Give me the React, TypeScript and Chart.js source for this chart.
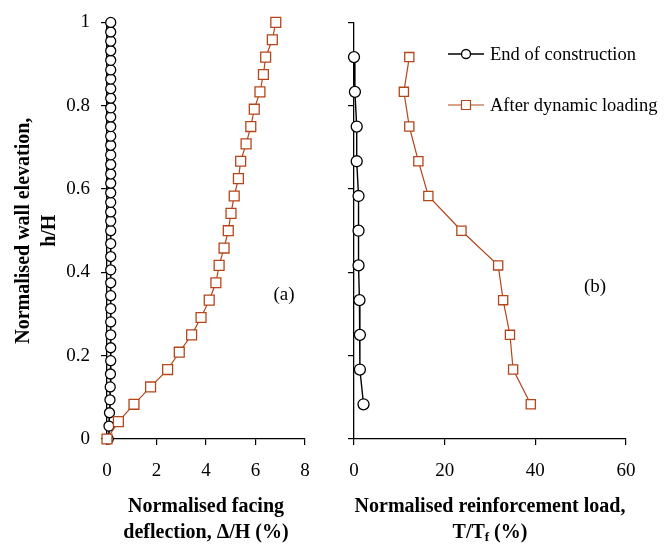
import React, { useEffect, useRef } from 'react';
import { Chart, registerables } from 'chart.js';

Chart.register(...registerables);

const FONT = "'Liberation Serif', 'Times New Roman', serif";
const BLACK = '#000000';
const ORANGE = '#b5461a';

// ---------- Panel (a): facing deflection ----------
const elevAfter = [0, 0.0417, 0.0833, 0.125, 0.1667, 0.2083, 0.25, 0.2917, 0.3333, 0.375, 0.4167, 0.4583, 0.5, 0.5417, 0.5833, 0.625, 0.6667, 0.7083, 0.75, 0.7917, 0.8333, 0.875, 0.9167, 0.9583, 1];
const deflAfter = [0, 0.46, 1.09, 1.76, 2.45, 2.92, 3.42, 3.8, 4.13, 4.4, 4.53, 4.73, 4.9, 5.01, 5.14, 5.31, 5.4, 5.62, 5.81, 5.95, 6.18, 6.32, 6.41, 6.68, 6.82];

const elevEoc = [0, 0.031, 0.063, 0.094, 0.125, 0.156, 0.188, 0.219, 0.25, 0.281, 0.313, 0.344, 0.375, 0.406, 0.438, 0.469, 0.5, 0.523, 0.545, 0.568, 0.591, 0.614, 0.636, 0.659, 0.682, 0.705, 0.727, 0.75, 0.773, 0.795, 0.818, 0.841, 0.864, 0.886, 0.909, 0.932, 0.955, 0.977, 1];
const deflEoc = [0.05, 0.08, 0.1, 0.12, 0.13, 0.14, 0.15, 0.15, 0.15, 0.15, 0.15, 0.15, 0.15, 0.15, 0.15, 0.15, 0.15, 0.15, 0.15, 0.15, 0.15, 0.15, 0.15, 0.15, 0.15, 0.15, 0.15, 0.15, 0.15, 0.15, 0.15, 0.15, 0.15, 0.15, 0.15, 0.15, 0.15, 0.15, 0.15];

const deflTicks = [0, 2, 4, 6, 8];
const elevTickLabels = ['0', '0.2', '0.4', '0.6', '0.8', '1'];

// ---------- Panel (b): reinforcement load ----------
const elevLayers = [0.9167, 0.8333, 0.75, 0.6667, 0.5833, 0.5, 0.4167, 0.3333, 0.25, 0.1667, 0.0833];
const loadEoc = [0, 0.2, 0.6, 0.6, 1.0, 1.0, 1.0, 1.2, 1.3, 1.3, 2.1];
const loadAfter = [12.2, 11.0, 12.2, 14.2, 16.4, 23.7, 31.8, 32.9, 34.4, 35.1, 39.0];
const loadTicks = [0, 20, 40, 60];

const seriesNames = ['End of construction', 'After dynamic loading'];

const zip = (xs: number[], ys: number[]) => xs.map((x, i) => ({ x, y: ys[i] }));

const tickFont = { family: FONT, size: 19 };
const titleFont = { family: FONT, size: 20, weight: 'bold' as const, lineHeight: 1.3 };

function xScale(min: number, max: number, step: number, title: string[]) {
  return {
    type: 'linear' as const,
    min,
    max,
    ticks: { stepSize: step, font: tickFont, color: BLACK, padding: 15 },
    grid: { drawOnChartArea: false, drawTicks: true, tickLength: 6, color: BLACK, lineWidth: 1.2 },
    border: { display: true, color: BLACK, width: 1.3 },
    title: { display: true, text: title, font: titleFont, color: BLACK, padding: { top: 0, bottom: 3 } },
    afterFit: (s: any) => { s.height = 110; },
  };
}

function yScale(showLabels: boolean, width: number) {
  return {
    type: 'linear' as const,
    min: 0,
    max: 1,
    ticks: {
      stepSize: 0.2,
      font: tickFont,
      color: BLACK,
      padding: 11,
      callback: (v: any) => {
        if (!showLabels) return '';
        const idx = Math.round(Number(v) / 0.2);
        return elevTickLabels[idx] ?? '';
      },
    },
    grid: { drawOnChartArea: false, drawTicks: true, tickLength: 6, color: BLACK, lineWidth: 1.2 },
    border: { display: true, color: BLACK, width: 1.3 },
    title: showLabels
      ? { display: true, text: ['Normalised wall elevation,', 'h/H'], font: titleFont, color: BLACK, padding: { top: 11, bottom: 0 } }
      : { display: false },
    afterFit: (s: any) => { s.width = width; },
  };
}

const textPlugin = (label: string, lx: number, ly: number, isRight: boolean) => ({
  id: 'annot-' + (isRight ? 'b' : 'a'),
  afterDraw(chart: any) {
    const ctx: CanvasRenderingContext2D = chart.ctx;
    ctx.save();
    ctx.fillStyle = BLACK;
    ctx.font = `19px ${FONT}`;
    ctx.textAlign = 'center';
    ctx.textBaseline = 'middle';
    ctx.fillText(label, lx, ly);
    if (isRight) {
      const rows = [
        { name: seriesNames[0], color: BLACK, y: 54, style: 'circle', lw: 1.3 },
        { name: seriesNames[1], color: ORANGE, y: 105, style: 'rect', lw: 1.2 },
      ];
      rows.forEach((r) => {
        const x0 = 118, x1 = 154, xm = (x0 + x1) / 2;
        ctx.strokeStyle = r.color;
        ctx.lineWidth = r.lw;
        ctx.beginPath();
        ctx.moveTo(x0, r.y);
        ctx.lineTo(x1, r.y);
        ctx.stroke();
        ctx.fillStyle = '#ffffff';
        ctx.beginPath();
        if (r.style === 'circle') ctx.arc(xm, r.y, 4.5, 0, Math.PI * 2);
        else ctx.rect(xm - 4.5, r.y - 4.5, 9, 9);
        ctx.fill();
        ctx.stroke();
        ctx.fillStyle = BLACK;
        ctx.textAlign = 'left';
        ctx.font = `18.5px ${FONT}`;
        ctx.fillText(r.name, 160, r.y + 1);
      });
      // second line of the x-axis title, with a subscript f
      const area = chart.chartArea;
      const cx = (area.left + area.right) / 2;
      const y = 533;
      const big = `bold 20px ${FONT}`;
      const small = `bold 13px ${FONT}`;
      const parts = [
        { t: 'T/T', f: big, dy: 0 },
        { t: 'f', f: small, dy: 5 },
        { t: ' (%)', f: big, dy: 0 },
      ];
      let total = 0;
      parts.forEach((p) => { ctx.font = p.f; total += ctx.measureText(p.t).width; });
      let x = cx - total / 2;
      ctx.textAlign = 'left';
      ctx.fillStyle = BLACK;
      parts.forEach((p) => {
        ctx.font = p.f;
        ctx.fillText(p.t, x, y + p.dy);
        x += ctx.measureText(p.t).width;
      });
    }
    ctx.restore();
  },
});

export default function App() {
  const leftRef = useRef<HTMLCanvasElement>(null);
  const rightRef = useRef<HTMLCanvasElement>(null);

  useEffect(() => {
    const common = {
      responsive: false,
      animation: false as const,
      events: [] as any[],
      plugins: { legend: { display: false }, tooltip: { enabled: false } },
    };

    const left = new Chart(leftRef.current!, {
      type: 'line',
      data: {
        datasets: [
          {
            label: seriesNames[1],
            data: zip(deflAfter, elevAfter),
            borderColor: ORANGE,
            borderWidth: 1.2,
            pointStyle: 'rect',
            pointRadius: 7,
            pointBorderWidth: 1.3,
            pointBorderColor: ORANGE,
            pointBackgroundColor: '#ffffff',
            clip: false as any,
            order: 1,
          },
          {
            label: seriesNames[0],
            data: zip(deflEoc, elevEoc),
            borderColor: BLACK,
            borderWidth: 1.6,
            pointStyle: 'circle',
            pointRadius: 5,
            pointBorderWidth: 1.3,
            pointBorderColor: BLACK,
            pointBackgroundColor: '#ffffff',
            clip: false as any,
            order: 2,
          },
        ],
      },
      options: {
        ...common,
        layout: { padding: { top: 20, right: 25, left: 0, bottom: 0 } },
        scales: {
          x: {
            ...xScale(0, 8, 2, ['Normalised facing', 'deflection, \u0394/H (%)']),
            afterBuildTicks: (s: any) => { s.ticks = deflTicks.map((v) => ({ value: v })); },
          },
          y: yScale(true, 107),
        },
      } as any,
      plugins: [textPlugin('(a)', 284, 295, false)],
    });

    const right = new Chart(rightRef.current!, {
      type: 'line',
      data: {
        datasets: [
          {
            label: seriesNames[1],
            data: zip(loadAfter, elevLayers),
            borderColor: ORANGE,
            borderWidth: 1.2,
            pointStyle: 'rect',
            pointRadius: 6.5,
            pointBorderWidth: 1.3,
            pointBorderColor: ORANGE,
            pointBackgroundColor: '#ffffff',
            clip: false as any,
          },
          {
            label: seriesNames[0],
            data: zip(loadEoc, elevLayers),
            borderColor: BLACK,
            borderWidth: 1.4,
            pointStyle: 'circle',
            pointRadius: 5.5,
            pointBorderWidth: 1.3,
            pointBorderColor: BLACK,
            pointBackgroundColor: '#ffffff',
            clip: false as any,
          },
        ],
      },
      options: {
        ...common,
        layout: { padding: { top: 20, right: 45, left: 0, bottom: 0 } },
        scales: {
          x: {
            ...xScale(0, 60, 20, ['Normalised reinforcement load,', ' ']),
            afterBuildTicks: (s: any) => { s.ticks = loadTicks.map((v) => ({ value: v })); },
          },
          y: yScale(false, 24),
        },
      } as any,
      plugins: [textPlugin('(b)', 265, 287, true)],
    });

    return () => {
      left.destroy();
      right.destroy();
    };
  }, []);

  return (
    <div style={{ position: 'absolute', left: 0, top: 0, width: 671, height: 549, background: '#ffffff' }}>
      <canvas ref={leftRef} width={330} height={549} style={{ position: 'absolute', left: 0, top: 0, width: 330, height: 549 }} />
      <canvas ref={rightRef} width={341} height={549} style={{ position: 'absolute', left: 330, top: 0, width: 341, height: 549 }} />
    </div>
  );
}
